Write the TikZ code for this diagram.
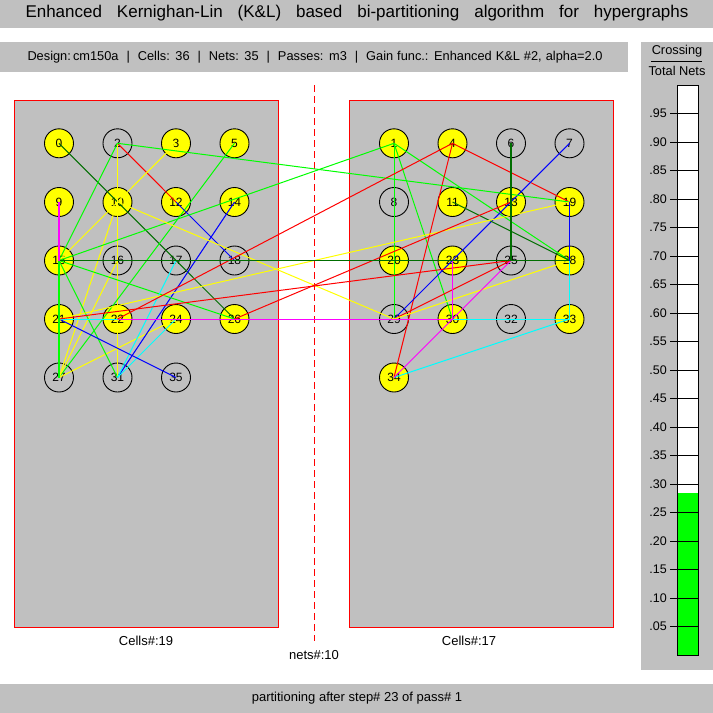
\documentclass[tikz,border=0pt]{standalone}
\usepackage{fontspec}
\setmainfont{Liberation Sans}
\definecolor{panel}{RGB}{192,192,192}
\definecolor{netgreen}{RGB}{0,255,0}
\definecolor{netdkgreen}{RGB}{0,110,0}
\definecolor{netred}{RGB}{255,0,0}
\definecolor{netblue}{RGB}{0,0,255}
\definecolor{netyellow}{RGB}{255,255,0}
\definecolor{netcyan}{RGB}{0,255,255}
\definecolor{netmagenta}{RGB}{255,0,255}
\tikzset{
  cell/.style={circle, draw=black, line width=0.9pt, minimum size=29pt, inner sep=0pt,
    font=\fontsize{12}{12}\selectfont},
  moved/.style={cell, fill=netyellow},
  stay/.style={cell},
  net/.style={line width=1pt},
  heavynet/.style={line width=1.8pt},
  partbox/.style={fill=panel, draw=netred, line width=1pt},
  caption/.style={font=\fontsize{13}{13}\selectfont, inner sep=0pt},
  ticklabel/.style={font=\fontsize{12.5}{12.5}\selectfont, anchor=east, inner sep=0pt},
  tick/.style={line width=1pt}
}
\begin{document}
\begin{tikzpicture}[x=1pt,y=-1pt]
\useasboundingbox (0,0) rectangle (713,713);
\fill[white] (0,0) rectangle (713,713);

% title, info line and status line
\fill[panel] (0,0) rectangle (713,28);
\node[inner sep=0pt] (title) at (357,13.5)
  {\fontsize{17}{17}\selectfont\makebox[663pt][s]{Enhanced Kernighan-Lin (K\&L) based bi-partitioning algorithm for hypergraphs}};
\fill[panel] (0,42) rectangle (628,72);
\node[inner sep=0pt] (info) at (315,57)
  {\fontsize{12.8}{12.8}\selectfont\makebox[575pt][s]{Design:\,cm150a \ | \ Cells: 36 \ | \ Nets: 35 \ | \ Passes: m3 \ | \ Gain func.: Enhanced K\&L \#2, alpha=2.0}};
\fill[panel] (0,684) rectangle (713,713);
\node[caption] (status) at (357,698) {partitioning after step\# 23 of pass\# 1};

% crossing-ratio gauge
\fill[panel] (641,42) rectangle (713,670);
\node[inner sep=0pt, font=\fontsize{12.8}{12.8}\selectfont] (gtitle) at (677,51) {Crossing};
\draw[line width=1pt] (651,61) -- (702,61);
\node[inner sep=0pt, font=\fontsize{12.8}{12.8}\selectfont] (gsub) at (677,71) {Total Nets};
\fill[white] (677,85.5) rectangle (698,655);
\fill[netgreen] (677,492.5) rectangle (698,655);
\foreach \v/\t in {1/.05,2/.10,3/.15,4/.20,5/.25,6/.30,7/.35,8/.40,9/.45,10/.50,
                   11/.55,12/.60,13/.65,14/.70,15/.75,16/.80,17/.85,18/.90,19/.95}{
  \draw[tick] (670,655-\v*28.5) -- (698,655-\v*28.5);
  \node[ticklabel] at (667,655-\v*28.5) {\t};
}
\draw[line width=1pt] (677,85.5) rectangle (698,655);

% the two partitions and the cut line
\draw[partbox] (14,100) rectangle (278,627);
\draw[partbox] (349,100) rectangle (613,627);
\draw[netred, line width=1pt, dash pattern=on 7pt off 4pt] (314,85) -- (314,641);
\node[caption] (leftcount) at (146,641) {Cells\#:19};
\node[caption] (rightcount) at (469,641) {Cells\#:17};
\node[caption] (cutcount) at (314,655) {nets\#:10};

% cells
\foreach \n/\x/\y/\s in {
  0/59/143.3/moved, 2/117.5/143.3/stay, 3/176/143.3/moved, 5/234.5/143.3/moved,
  9/59/202/moved, 10/117.5/202/moved, 12/176/202/moved, 14/234.5/202/moved,
  15/59/260.5/moved, 16/117.5/260.5/stay, 17/176/260.5/stay, 18/234.5/260.5/stay,
  21/59/319/moved, 22/117.5/319/moved, 24/176/319/moved, 26/234.5/319/moved,
  27/59/377.5/stay, 31/117.5/377.5/stay, 35/176/377.5/stay,
  1/394/143.3/moved, 4/452.5/143.3/moved, 6/511/143.3/stay, 7/569.5/143.3/stay,
  8/394/202/stay, 11/452.5/202/moved, 13/511/202/moved, 19/569.5/202/moved,
  20/394/260.5/moved, 23/452.5/260.5/moved, 25/511/260.5/stay, 28/569.5/260.5/moved,
  29/394/319/stay, 30/452.5/319/moved, 32/511/319/stay, 33/569.5/319/moved,
  34/394/377.5/moved}{
  \node[\s] (c\n) at (\x,\y) {\n};
}

% nets, drawn as stars over the cells
\foreach \a/\b/\c in {
  0/26/netdkgreen, 2/12/netred, 2/31/netyellow, 2/15/netgreen, 3/10/netyellow,
  5/27/netgreen, 10/27/netyellow, 10/15/netyellow, 16/27/netyellow, 24/27/netyellow,
  12/18/netblue, 14/31/netblue, 15/26/netgreen, 15/31/netgreen,
  17/31/netcyan, 24/31/netcyan, 21/35/netblue,
  1/29/netgreen, 1/30/netgreen, 1/28/netgreen, 4/19/netred, 4/34/netred,
  7/29/netblue, 11/28/netdkgreen,
  29/25/netred, 29/28/netyellow, 33/34/netcyan, 28/33/netcyan,
  21/33/netcyan, 22/30/netmagenta, 34/25/netmagenta, 25/28/netmagenta,
  2/19/netgreen, 15/1/netgreen, 10/29/netyellow, 21/19/netyellow,
  22/4/netred, 21/25/netred, 26/13/netred, 15/28/netdkgreen}{
  \draw[net, draw=\c] (c\a.center) -- (c\b.center);
}
\foreach \a/\b/\c in {
  9/15/netmagenta, 15/27/netgreen, 23/30/netmagenta, 6/25/netdkgreen, 19/28/netblue}{
  \draw[heavynet, draw=\c] (c\a.center) -- (c\b.center);
}
\end{tikzpicture}
\end{document}
